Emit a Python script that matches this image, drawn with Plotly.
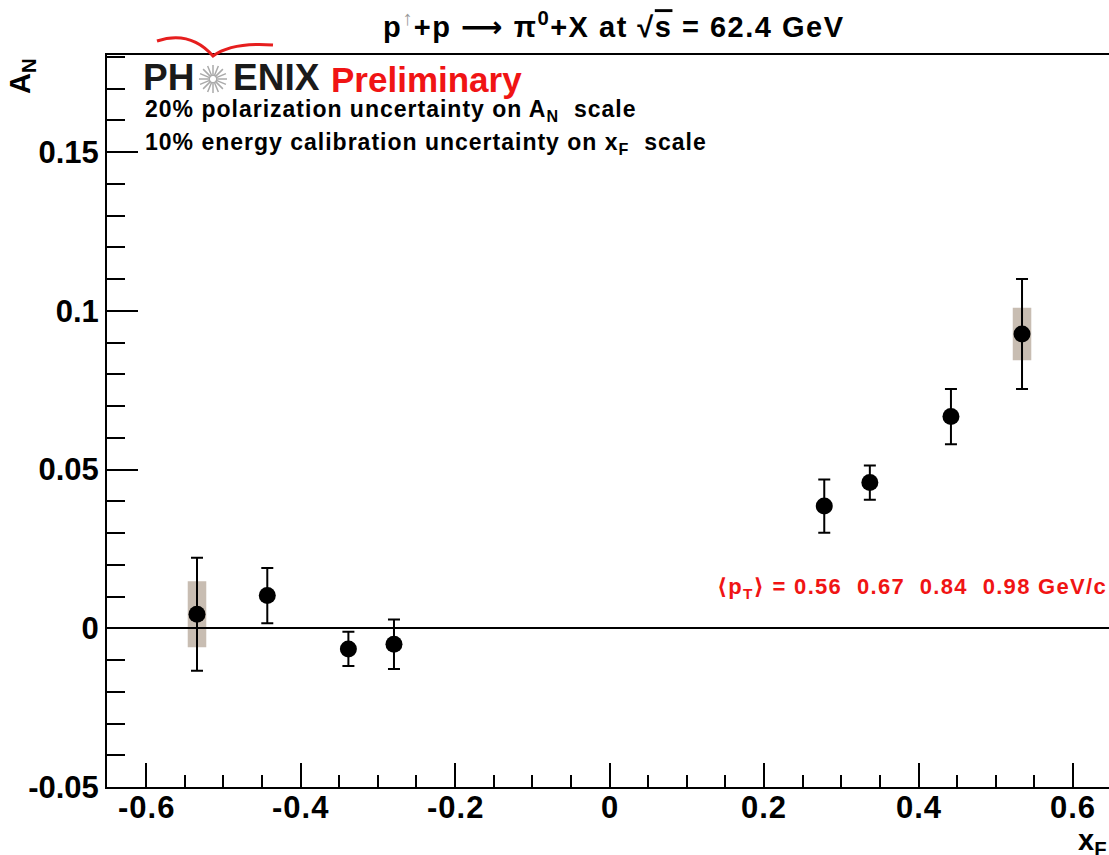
import math
import plotly.graph_objects as go

# ---- data ----
xf = [-0.534, -0.443, -0.338, -0.279, 0.278, 0.337, 0.442, 0.534]
an = [0.0044, 0.0103, -0.0065, -0.0050, 0.0385, 0.0459, 0.0667, 0.0927]
an_err = [0.0178, 0.0087, 0.0054, 0.0078, 0.0084, 0.0054, 0.0087, 0.0173]
an_sys = [0.0104, 0.0, 0.0, 0.0, 0.0, 0.0, 0.0, 0.0083]
sys_halfwidth = 0.012

x_tickvals = [-0.6, -0.4, -0.2, 0, 0.2, 0.4, 0.6]
x_ticktext = ["-0.6", "-0.4", "-0.2", "0", "0.2", "0.4", "0.6"]
y_tickvals = [-0.05, 0, 0.05, 0.1, 0.15]
y_ticktext = ["-0.05", "0", "0.05", "0.1", "0.15"]

W, H = 1109, 855
L, R_, T, B = 107, 1109, 55, 787


def px(x):
    return (x - L) / (R_ - L)


def py(y):
    return (B - y) / (B - T)


FONT = "Liberation Sans, Arial, DejaVu Sans, sans-serif"


def sp(txt, ls):
    return f"<span style='letter-spacing:{ls}px'>{txt}</span>"


fig = go.Figure()

fig.add_trace(go.Scatter(
    x=xf, y=an, mode="markers",
    marker=dict(symbol="circle", size=17, color="black"),
    error_y=dict(type="data", array=an_err, visible=True,
                 color="black", thickness=2, width=6),
    showlegend=False,
))

shapes = []
for x, y, s in zip(xf, an, an_sys):
    if s > 0:
        shapes.append(dict(type="rect", xref="x", yref="y",
                           x0=x - sys_halfwidth, x1=x + sys_halfwidth,
                           y0=y - s, y1=y + s,
                           fillcolor="rgb(200,189,178)", line=dict(width=0),
                           layer="below"))

# PHENIX starburst
cx, cy, r0, r1 = 213, 79, 3, 14
star_path = ""
for k in range(16):
    a = 2 * math.pi * k / 16
    x0, y0 = cx + r0 * math.cos(a), cy + r0 * math.sin(a)
    x1, y1 = cx + r1 * math.cos(a), cy + r1 * math.sin(a)
    star_path += f"M {px(x0)} {py(y0)} L {px(x1)} {py(y1)} "
shapes.append(dict(type="path", xref="paper", yref="paper", path=star_path,
                   line=dict(color="rgb(170,170,170)", width=1.5)))
# red arc
arc = (f"M {px(157)} {py(41)} Q {px(190)} {py(30)} {px(213)} {py(56)} "
       f"Q {px(232)} {py(42)} {px(273)} {py(45)}")
shapes.append(dict(type="path", xref="paper", yref="paper", path=arc,
                   line=dict(color="rgb(230,30,30)", width=3)))

title_txt = ("p<sup><span style='color:#999'>↑</span></sup>+p ⟶ π<sup>0</sup>+X at "
             "√<span style='text-decoration:overline'>s</span> = 62.4 GeV")

annotations = [
    dict(text="<b>" + sp(title_txt, 1.5) + "</b>",
         x=px(614), y=py(25), xref="paper", yref="paper", showarrow=False,
         xanchor="center", yanchor="middle",
         font=dict(family=FONT, size=29, color="black")),
    dict(text="<b>PH</b>", x=px(141), y=py(78), xref="paper", yref="paper",
         showarrow=False, xanchor="left", yanchor="middle",
         font=dict(family=FONT, size=37, color="#1a1a1a")),
    dict(text="<b>ENIX</b>", x=px(231), y=py(78), xref="paper", yref="paper",
         showarrow=False, xanchor="left", yanchor="middle",
         font=dict(family=FONT, size=37, color="#1a1a1a")),
    dict(text="<b>Preliminary</b>", x=px(329), y=py(80), xref="paper", yref="paper",
         showarrow=False, xanchor="left", yanchor="middle",
         font=dict(family=FONT, size=35, color="rgb(240,20,20)")),
    dict(text="<b>" + sp("20% polarization uncertainty on A<sub>N</sub>\u00a0 scale", 1) + "</b>",
         x=px(143), y=py(111), xref="paper", yref="paper",
         showarrow=False, xanchor="left", yanchor="middle",
         font=dict(family=FONT, size=23, color="black")),
    dict(text="<b>" + sp("10% energy calibration uncertainty on x<sub>F</sub>\u00a0 scale", 1) + "</b>",
         x=px(143), y=py(144), xref="paper", yref="paper",
         showarrow=False, xanchor="left", yanchor="middle",
         font=dict(family=FONT, size=23, color="black")),
    dict(text="<b>" + sp("⟨p<sub>T</sub>⟩ = 0.56\u00a0\u00a00.67\u00a0\u00a00.84\u00a0\u00a00.98 GeV/c", 1.3) + "</b>",
         x=px(1109), y=py(588), xref="paper", yref="paper",
         showarrow=False, xanchor="right", yanchor="middle",
         font=dict(family=FONT, size=22, color="rgb(240,20,20)")),
    dict(text="<b>A<sub>N</sub></b>", x=px(22), y=py(76), xref="paper", yref="paper",
         showarrow=False, xanchor="center", yanchor="middle", textangle=-90,
         font=dict(family=FONT, size=29, color="black")),
    dict(text="<b>x<sub>F</sub></b>", x=px(1092), y=py(842), xref="paper", yref="paper",
         showarrow=False, xanchor="center", yanchor="middle",
         font=dict(family=FONT, size=29, color="black")),
]

# x tick labels placed as annotations (at the axis' own data positions)
for v, t in zip(x_tickvals, x_ticktext):
    annotations.append(dict(text="<b>" + sp(t, 1) + "</b>", x=v, xref="x",
                            y=py(807), yref="paper", showarrow=False,
                            xanchor="center", yanchor="middle",
                            font=dict(family=FONT, size=31, color="black")))

fig.update_layout(
    width=W, height=H,
    margin=dict(l=L, r=W - R_, t=T, b=H - B, pad=0),
    paper_bgcolor="white", plot_bgcolor="white",
    showlegend=False,
    shapes=shapes,
    annotations=annotations,
    xaxis=dict(range=[-0.6505, 0.6466], showgrid=False, zeroline=False,
               showline=True, linecolor="black", linewidth=2, mirror=True,
               tickmode="array", tickvals=x_tickvals, ticktext=x_ticktext,
               showticklabels=False,
               ticks="inside", ticklen=24, tickwidth=2, tickcolor="black",
               minor=dict(tickmode="linear", tick0=0, dtick=0.05, ticks="inside",
                          ticklen=12, tickwidth=2, tickcolor="black", showgrid=False)),
    yaxis=dict(range=[-0.05, 0.1806], showgrid=False,
               zeroline=True, zerolinecolor="black", zerolinewidth=2,
               showline=True, linecolor="black", linewidth=2, mirror=False,
               tickmode="array", tickvals=y_tickvals, ticktext=y_ticktext,
               ticks="inside", ticklen=31, tickwidth=2, tickcolor="black",
               ticklabelstandoff=0,
               tickfont=dict(family=FONT, size=31, color="black", weight="bold"),
               minor=dict(tickmode="linear", tick0=0, dtick=0.01, ticks="inside",
                          ticklen=18, tickwidth=2, tickcolor="black", showgrid=False)),
)

fig.write_html("out.html")
